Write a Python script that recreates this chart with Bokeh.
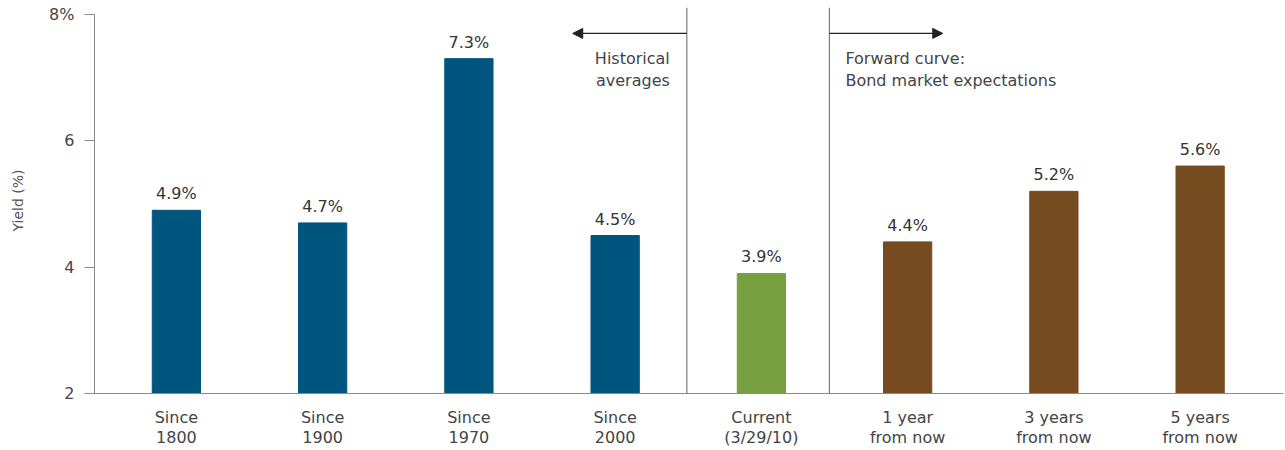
from bokeh.plotting import figure
from bokeh.models import ColumnDataSource, FixedTicker, Range1d, Span, Arrow, NormalHead, Label
from bokeh.embed import file_html
from bokeh.resources import INLINE
from bokeh.core.properties import value

categories = ["Since\n1800", "Since\n1900", "Since\n1970", "Since\n2000",
              "Current\n(3/29/10)", "1 year\nfrom now", "3 years\nfrom now", "5 years\nfrom now"]
yields = [4.9, 4.7, 7.3, 4.5, 3.9, 4.4, 5.2, 5.6]
groups = ["hist", "hist", "hist", "hist", "current", "fwd", "fwd", "fwd"]
group_colors = {"hist": "#00557F", "current": "#76A040", "fwd": "#764B1F"}
y_ticks = [2, 4, 6, 8]
y_tick_labels = ["2", "4", "6", "8%"]

FONT = "DejaVu Sans"
BASE = 2

xs = list(range(len(categories)))
src = ColumnDataSource(dict(
    x=xs,
    top=yields,
    color=[group_colors[g] for g in groups],
    label=[f"{v:.1f}%" for v in yields],
))

p = figure(width=1285, height=450, output_backend="svg", toolbar_location=None,
           x_range=Range1d(-0.56, 7.57), y_range=Range1d(BASE, 8.11),
           min_border_left=94, min_border_right=2, min_border_top=7, min_border_bottom=57)
p.outline_line_color = None
p.xgrid.visible = False
p.ygrid.visible = False
p.background_fill_color = "white"
p.border_fill_color = "white"

p.vbar(x="x", top="top", bottom=BASE, width=0.33, color="color", source=src)
p.text(x="x", y="top", text="label", source=src, text_align="center", text_baseline="bottom",
       y_offset=-7, text_font=value(FONT), text_font_size="16px", text_color="#333333")

# separators
sep_color = "#7a7a7a"
p.add_layout(Span(location=3.49, dimension="height", line_color=sep_color, line_width=1.2))
p.add_layout(Span(location=4.465, dimension="height", line_color=sep_color, line_width=1.2))

arrow_y = 7.70
p.add_layout(Arrow(x_start=3.49, y_start=arrow_y, x_end=2.71, y_end=arrow_y,
                   line_color="#222222", line_width=1.2,
                   end=NormalHead(size=10, fill_color="#222222", line_color="#222222")))
p.add_layout(Arrow(x_start=4.465, y_start=arrow_y, x_end=5.24, y_end=arrow_y,
                   line_color="#222222", line_width=1.2,
                   end=NormalHead(size=10, fill_color="#222222", line_color="#222222")))

for txt, yy in [("Historical", 7.31), ("averages", 6.96)]:
    p.add_layout(Label(x=3.49, y=yy, x_offset=-17, text=txt, text_align="right",
                       text_baseline="middle", text_font=FONT, text_font_size="16px",
                       text_color="#444444"))
for txt, yy in [("Forward curve:", 7.31), ("Bond market expectations", 6.96)]:
    p.add_layout(Label(x=4.465, y=yy, x_offset=16, text=txt, text_align="left",
                       text_baseline="middle", text_font=FONT, text_font_size="16px",
                       text_color="#444444"))

# axes
ax_color = "#8a8a8a"
p.yaxis.bounds = (2, 8)
p.yaxis.ticker = FixedTicker(ticks=y_ticks)
p.yaxis.major_label_overrides = {t: l for t, l in zip(y_ticks, y_tick_labels)}
p.yaxis.minor_tick_line_color = None
p.yaxis.major_tick_in = 0
p.yaxis.major_tick_out = 10
p.yaxis.major_tick_line_color = ax_color
p.yaxis.axis_line_color = ax_color
p.yaxis.major_label_standoff = 10
p.yaxis.major_label_text_font = FONT
p.yaxis.major_label_text_font_size = "16px"
p.yaxis.major_label_text_color = "#444444"
p.yaxis.axis_label = "Yield (%)"
p.yaxis.axis_label_text_font = FONT
p.yaxis.axis_label_text_font_size = "14px"
p.yaxis.axis_label_text_font_style = "normal"
p.yaxis.axis_label_text_color = "#555555"
p.yaxis.axis_label_standoff = 20

p.xaxis.ticker = FixedTicker(ticks=xs)
p.xaxis.major_label_overrides = {i: c for i, c in zip(xs, categories)}
p.xaxis.minor_tick_line_color = None
p.xaxis.major_tick_line_color = None
p.xaxis.axis_line_color = ax_color
p.xaxis.major_label_standoff = 8
p.xaxis.major_label_text_font = FONT
p.xaxis.major_label_text_font_size = "16px"
p.xaxis.major_label_text_color = "#444444"
p.xaxis.major_label_text_line_height = 1.1

open("out.html", "w").write(file_html(p, INLINE))
